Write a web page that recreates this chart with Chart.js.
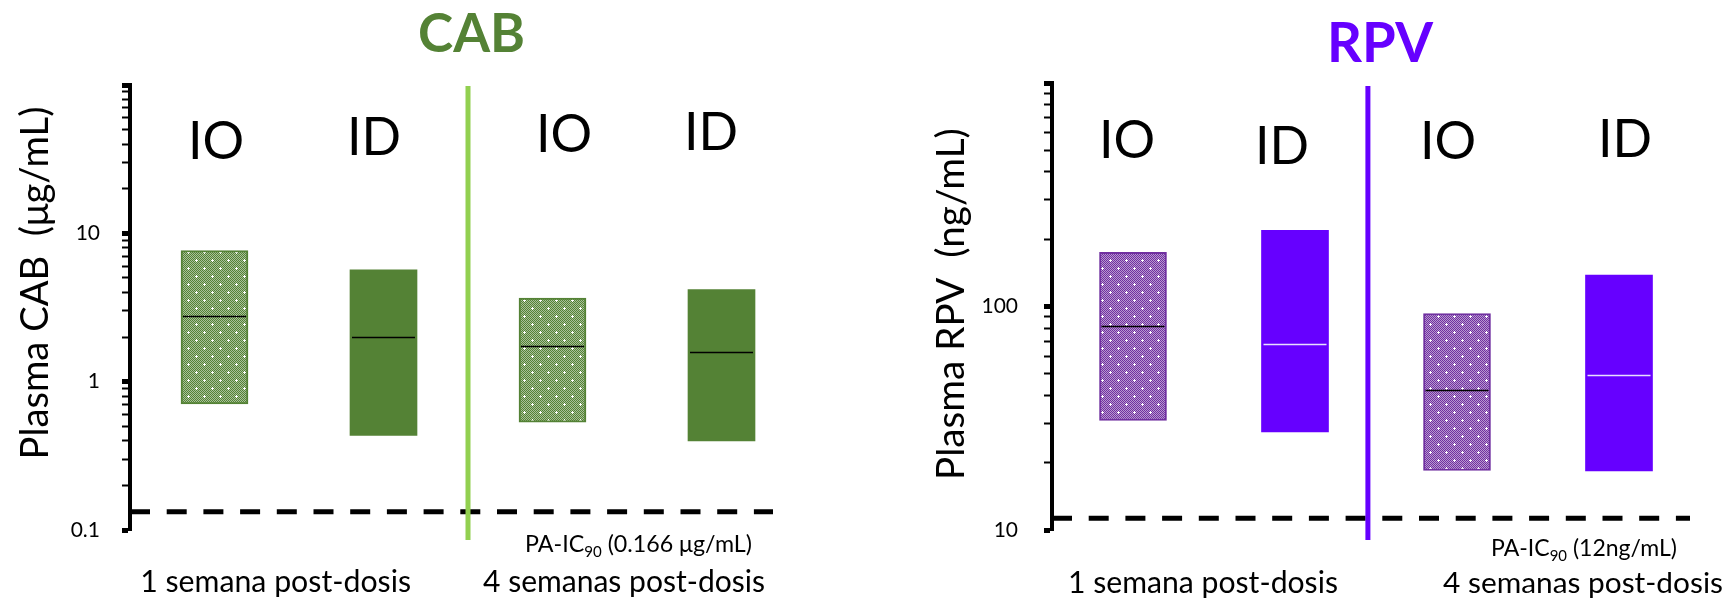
<!DOCTYPE html>
<html><head><meta charset="utf-8">
<script src="https://cdn.jsdelivr.net/npm/chart.js@4.4.1/dist/chart.umd.min.js"></script>
<style>
html,body{margin:0;padding:0;background:#fff;width:1733px;height:601px;overflow:hidden}
canvas{position:absolute;top:0}
#cab{left:0}
#rpv{left:866px}
</style></head><body>
<canvas id="cab" width="866" height="601"></canvas>
<canvas id="rpv" width="867" height="601"></canvas>
<script>
// ---------- data ----------
const categories = ['IO', 'ID', 'IO', 'ID'];
const groupLabels = ['1 semana post-dosis', '4 semanas post-dosis'];

const cabLow    = [0.708, 0.434, 0.534, 0.399];
const cabHigh   = [7.65, 5.68, 3.66, 4.17];
const cabMedian = [2.79, 1.99, 1.745, 1.575];
const cabThreshold = 0.133;
const cabTickLabels = ['0.1', '1', '10'];
const cabRange = [0.1, 100];

const rpvLow    = [30.9, 27.5, 18.46, 18.4];
const rpvHigh   = [174.8, 219.4, 93.0, 138.2];
const rpvMedian = [81.8, 68.2, 42.1, 49.5];
const rpvThreshold = 11.3;
const rpvTickLabels = ['10', '100'];
const rpvRange = [10, 1000];

// ---------- styles ----------
const FONT = 'Lato, "Noto Sans", sans-serif';

const cabStyle = {
  offsetX: 0, canvasW: 866, axisX: 130, top: 85, bottom: 530, right: 806,
  solid: '#548235', patternColor: '#548235', patternTint: '#a9c19a', divider: '#92D050', dividerAt: 1.5,
  divTop: 86, divBottom: 540, dashEnd: 773, tickPad: 22,
  medianColors: ['#000', '#000', '#000', '#000'],
  title: { text: 'CAB', color: '#548235', x: 471.5, base: 52, w: 107 },
  yTitle: { text: 'Plasma CAB  (μg/mL)', x: 35.5, y: 283, w: 353 },
  catLabels: [[216, 159], [374, 155], [564, 152], [711, 150]],
  catSize: 52,
  groups: [[275.6, 271], [624, 282]], groupBase: 592,
  pa: { parts: ['PA-IC', '90', ' (0.166 μg/mL)'], x: 525, w: 227, base: 552 }
};
const rpvStyle = {
  offsetX: 866, canvasW: 867, axisX: 1052, top: 83, bottom: 530, right: 1700,
  solid: '#6600FF', patternColor: '#7030A0', patternTint: '#b898d0', divider: '#6600FF', dividerAt: 1.45,
  divTop: 86, divBottom: 540, dashEnd: 1690, tickPad: 26,
  medianColors: ['#000', '#e8e0ff', '#000', '#e8e0ff'],
  title: { text: 'RPV', color: '#6600FF', x: 1380, base: 62, w: 106 },
  yTitle: { text: 'Plasma RPV  (ng/mL)', x: 952, y: 304, w: 352 },
  catLabels: [[1127, 158], [1282, 164], [1448, 159], [1625, 157]],
  catSize: 52,
  groups: [[1203, 270], [1583, 280]], groupBase: 593,
  pa: { parts: ['PA-IC', '90', ' (12ng/mL)'], x: 1491, w: 186, base: 556 }
};

function makePattern(ctx, color, tint) {
  const c = document.createElement('canvas');
  c.width = 16; c.height = 16;
  const g = c.getContext('2d');
  g.fillStyle = tint; g.fillRect(0, 0, 16, 16);
  g.fillStyle = color;
  for (let y = 0; y < 16; y++) for (let x = 0; x < 16; x++) if ((x + y) % 2 === 0) g.fillRect(x, y, 1, 1);
  g.fillStyle = '#fff';
  [[4, 4], [12, 12]].forEach(([cx, cy]) => { g.fillRect(cx - 1, cy, 3, 1); g.fillRect(cx, cy - 1, 1, 3); });
  return ctx.createPattern(c, 'repeat');
}

function minorTicks(min, max) {
  const out = [];
  const e0 = Math.round(Math.log10(min)), e1 = Math.round(Math.log10(max));
  for (let e = e0; e < e1; e++) for (let m = 1; m < 10; m++) out.push(+(m * Math.pow(10, e)).toPrecision(2));
  out.push(max);
  return out;
}
const isDecade = v => Math.abs(Math.log10(v) - Math.round(Math.log10(v))) < 1e-9;

function fitSize(ctx, text, w, weight) {
  ctx.font = `${weight} 100px ${FONT}`;
  return 100 * w / ctx.measureText(text).width;
}

function overlay(st, medians, threshold) {
  return {
    id: 'overlay',
    afterDraw(chart) {
      const ctx = chart.ctx, xs = chart.scales.x, ys = chart.scales.y, ca = chart.chartArea, ox = st.offsetX;
      ctx.save();
      // threshold dashed line
      const ty = ys.getPixelForValue(threshold);
      ctx.setLineDash([20, 16.7]);
      ctx.lineWidth = 5; ctx.strokeStyle = '#000';
      ctx.beginPath(); ctx.moveTo(ca.left, ty); ctx.lineTo(st.dashEnd - ox, ty); ctx.stroke();
      ctx.setLineDash([]);
      // divider
      const dx = xs.getPixelForValue(st.dividerAt);
      ctx.strokeStyle = st.divider; ctx.lineWidth = 5;
      ctx.beginPath(); ctx.moveTo(dx, st.divTop); ctx.lineTo(dx, st.divBottom); ctx.stroke();
      // medians
      const meta = chart.getDatasetMeta(0);
      meta.data.forEach((bar, i) => {
        const y = Math.round(ys.getPixelForValue(medians[i])) + 0.5;
        const h = bar.width / 2 - 2;
        ctx.strokeStyle = st.medianColors[i]; ctx.lineWidth = 1.5;
        ctx.beginPath(); ctx.moveTo(bar.x - h, y); ctx.lineTo(bar.x + h, y); ctx.stroke();
      });
      ctx.fillStyle = '#000';
      ctx.textBaseline = 'alphabetic';
      // category labels IO / ID
      ctx.textAlign = 'center';
      ctx.font = `400 ${st.catSize}px ${FONT}`;
      st.catLabels.forEach(([x, b], i) => ctx.fillText(categories[i], x - ox, b));
      // title
      let s = fitSize(ctx, st.title.text, st.title.w, 700);
      ctx.font = `700 ${s}px ${FONT}`;
      ctx.fillStyle = st.title.color;
      ctx.fillText(st.title.text, st.title.x - ox, st.title.base);
      // group labels
      ctx.fillStyle = '#000';
      st.groups.forEach(([cx, w], i) => {
        const gs = fitSize(ctx, groupLabels[i], w, 400);
        ctx.font = `400 ${gs}px ${FONT}`;
        ctx.fillText(groupLabels[i], cx - ox, st.groupBase);
      });
      // PA-IC90 label
      ctx.textAlign = 'left';
      ctx.font = `400 100px ${FONT}`;
      const p = st.pa.parts;
      const w1 = ctx.measureText(p[0]).width, w2 = ctx.measureText(p[1]).width * 0.65, w3 = ctx.measureText(p[2]).width;
      const ps = 100 * st.pa.w / (w1 + w2 + w3);
      let x = st.pa.x - ox;
      ctx.font = `400 ${ps}px ${FONT}`; ctx.fillText(p[0], x, st.pa.base); x += w1 * ps / 100;
      ctx.font = `400 ${ps * 0.65}px ${FONT}`; ctx.fillText(p[1], x, st.pa.base + ps * 0.22); x += w2 * ps / 100;
      ctx.font = `400 ${ps}px ${FONT}`; ctx.fillText(p[2], x, st.pa.base);
      // y title
      const ys2 = fitSize(ctx, st.yTitle.text, st.yTitle.w, 400);
      ctx.translate(st.yTitle.x - ox, st.yTitle.y);
      ctx.rotate(-Math.PI / 2);
      ctx.textAlign = 'center'; ctx.textBaseline = 'middle';
      ctx.font = `400 ${ys2}px ${FONT}`;
      ctx.fillText(st.yTitle.text, 0, 0);
      ctx.restore();
    }
  };
}

function build(id, st, low, high, medians, threshold, range, tickLabels) {
  const canvas = document.getElementById(id);
  const ctx = canvas.getContext('2d');
  const pat = makePattern(ctx, st.patternColor, st.patternTint);
  const ranges = low.map((l, i) => [l, high[i]]);
  new Chart(canvas, {
    type: 'bar',
    data: {
      labels: categories,
      datasets: [{
        data: ranges,
        backgroundColor: [pat, st.solid, pat, st.solid],
        borderColor: [st.patternColor, st.solid, st.patternColor, st.solid],
        borderWidth: [2, 0, 2, 0],
        borderSkipped: false,
        barThickness: 67
      }]
    },
    options: {
      responsive: false, animation: false, devicePixelRatio: 1,
      layout: { padding: { top: st.top, bottom: 601 - st.bottom, left: 0, right: st.canvasW - (st.right - st.offsetX) } },
      plugins: { legend: { display: false }, tooltip: { enabled: false }, title: { display: false } },
      scales: {
        x: { display: false },
        y: {
          type: 'logarithmic', min: range[0], max: range[1],
          afterBuildTicks: s => { s.ticks = minorTicks(range[0], range[1]).map(v => ({ value: v })); },
          afterFit: s => { s.width = st.axisX - st.offsetX; },
          border: { display: true, color: '#000', width: 4 },
          grid: {
            drawOnChartArea: false, drawTicks: true, tickLength: 8, tickColor: '#000',
            tickWidth: c => (c.tick && isDecade(c.tick.value)) ? 5 : 2
          },
          ticks: {
            autoSkip: false, padding: st.tickPad, color: '#000',
            font: { family: FONT, size: 21 },
            callback: v => tickLabels.includes(String(v)) ? String(v) : ''
          }
        }
      }
    },
    plugins: [overlay(st, medians, threshold)]
  });
}

build('cab', cabStyle, cabLow, cabHigh, cabMedian, cabThreshold, cabRange, cabTickLabels);
build('rpv', rpvStyle, rpvLow, rpvHigh, rpvMedian, rpvThreshold, rpvRange, rpvTickLabels);
</script>
</body></html>
